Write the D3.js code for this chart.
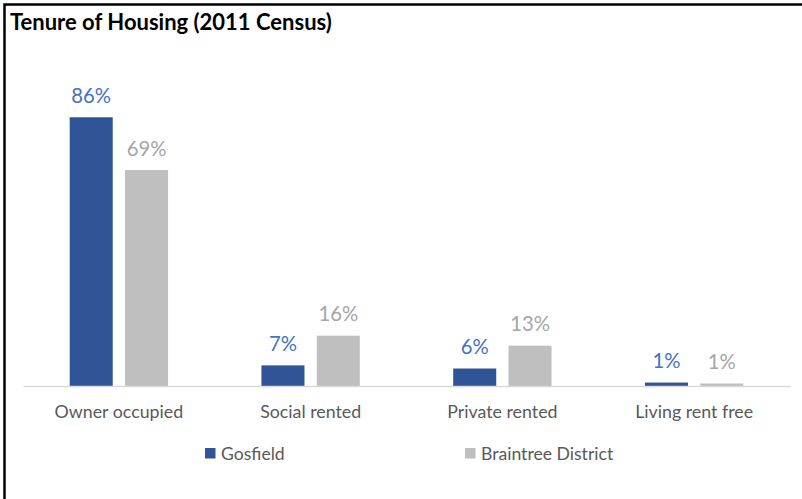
<!DOCTYPE html>
<html>
<head>
<meta charset="utf-8">
<script src="https://cdn.jsdelivr.net/npm/d3@7"></script>
<style>
  body { margin: 0; background: #fff; }
  text { font-family: Lato, "Open Sans", sans-serif; }
</style>
</head>
<body>
<div id="viz"></div>
<script>
// data (percent)
const categories = ["Owner occupied", "Social rented", "Private rented", "Living rent free"]
const seriesNames = ["Gosfield", "Braintree District"]
const gosfield = [86.0, 6.6, 5.6, 1.1]
const braintree = [69.1, 16.1, 12.9, 0.8]

const barColors = ["#2F5597", "#BFBFBF"]
const labelColors = ["#4472C4", "#A6A6A6"]

const width = 802
const height = 499

const svg = d3.select("#viz").append("svg")
    .attr("width", width)
    .attr("height", height)

svg.append("rect").attr("width", width).attr("height", height).attr("fill", "#fff")

// frame: top and left edges only
svg.append("path")
    .attr("d", "M4.5,499 V4.5 H802")
    .attr("fill", "none")
    .attr("stroke", "#000")
    .attr("stroke-width", 2.5)

svg.append("text")
    .attr("x", 10)
    .attr("y", 30)
    .attr("font-size", 22)
    .attr("font-weight", "bold")
    .attr("fill", "#000")
    .text("Tenure of Housing (2011 Census)")

const rows = categories.map(function(c, i) { return { cat: c, vals: [gosfield[i], braintree[i]] } })

const x0 = d3.scaleBand()
    .domain(categories)
    .range([23, 790])
    .paddingInner(0.487)
    .paddingOuter(0.2435)

const x1 = d3.scaleBand()
    .domain([0, 1])
    .range([0, x0.bandwidth()])
    .paddingInner(0.222)

const y = d3.scaleLinear()
    .domain([0, 100])
    .range([386, 73.5])

const groups = svg.selectAll("g.cat")
    .data(rows)
    .enter().append("g")
    .attr("class", "cat")
    .attr("transform", function(d) { return "translate(" + x0(d.cat) + ",0)" })

groups.selectAll("rect")
    .data(function(d) { return d.vals })
    .enter().append("rect")
    .attr("x", function(d, i) { return x1(i) })
    .attr("y", function(d) { return y(d) })
    .attr("width", x1.bandwidth())
    .attr("height", function(d) { return y(0) - y(d) })
    .attr("fill", function(d, i) { return barColors[i] })

groups.selectAll("text.val")
    .data(function(d) { return d.vals })
    .enter().append("text")
    .attr("class", "val")
    .attr("x", function(d, i) { return x1(i) + x1.bandwidth() / 2 })
    .attr("y", function(d) { return y(d) - 14.5 })
    .attr("text-anchor", "middle")
    .attr("font-size", 20.3)
    .attr("fill", function(d, i) { return labelColors[i] })
    .text(function(d) { return Math.round(d) + "%" })

// x axis
const xAxis = svg.append("g")
    .attr("transform", "translate(0," + y(0) + ")")
    .call(d3.axisBottom(x0).tickSize(0).tickPadding(19))
xAxis.select(".domain").attr("stroke", "#D9D9D9").attr("stroke-width", 1.3)
xAxis.selectAll("text")
    .attr("font-size", 17.8)
    .attr("fill", "#595959")
    .style("font-family", "Lato, 'Open Sans', sans-serif")

// legend
const legendX = [205, 465]
const legend = svg.selectAll("g.legend")
    .data(seriesNames)
    .enter().append("g")
    .attr("class", "legend")
    .attr("transform", function(d, i) { return "translate(" + legendX[i] + ",448)" })

legend.append("rect")
    .attr("width", 10.5)
    .attr("height", 10.5)
    .attr("fill", function(d, i) { return barColors[i] })

legend.append("text")
    .attr("x", 16)
    .attr("y", 11.5)
    .attr("font-size", 17.6)
    .attr("fill", "#595959")
    .text(function(d) { return d })
</script>
</body>
</html>
